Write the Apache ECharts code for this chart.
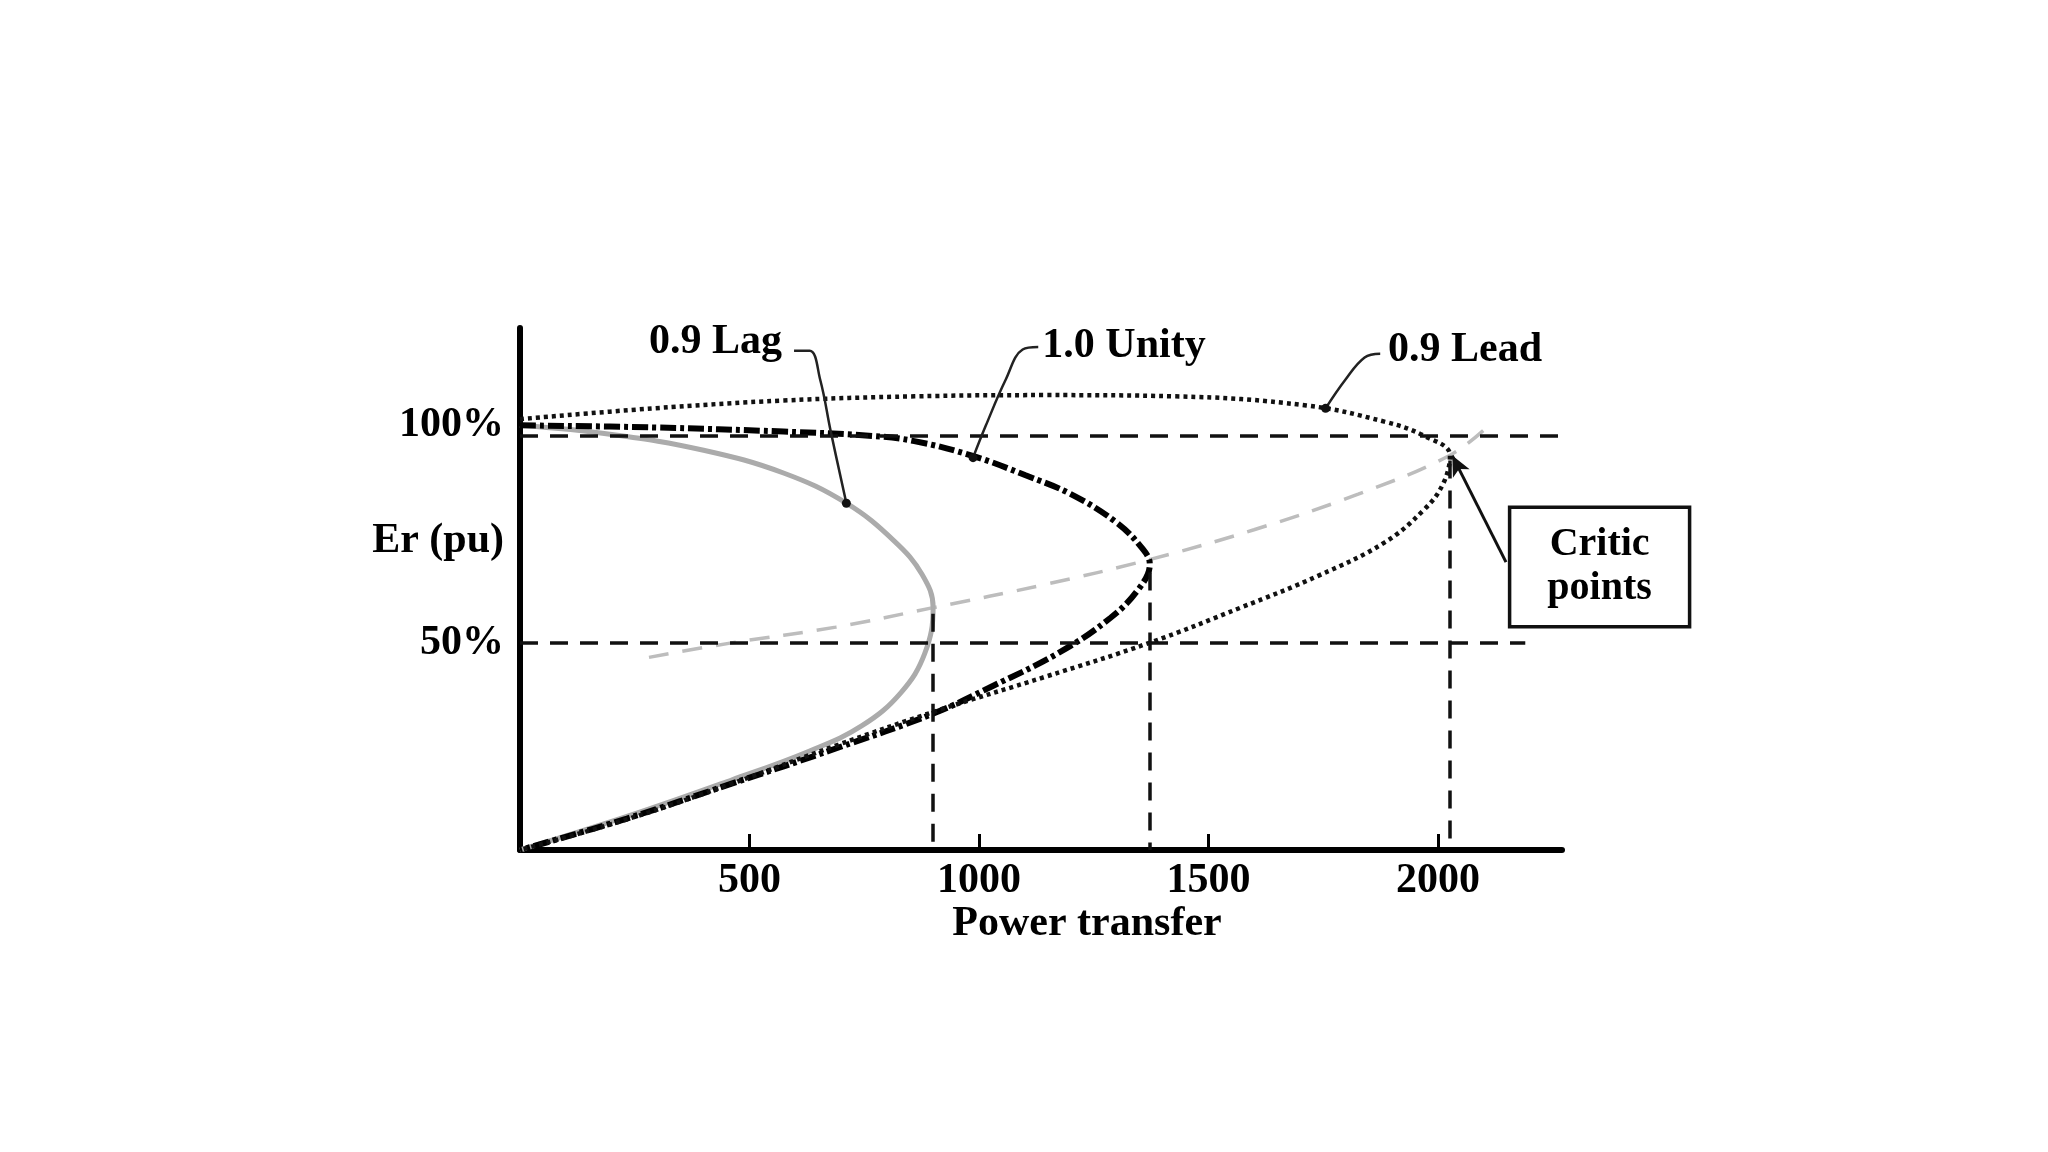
<!DOCTYPE html>
<html>
<head>
<meta charset="utf-8">
<style>
  html, body { margin: 0; padding: 0; background: #ffffff; }
  #chart { width: 2048px; height: 1152px; }
</style>
<script src="https://cdn.jsdelivr.net/npm/echarts@6/dist/echarts.min.js"></script>
</head>
<body>
<div id="chart"></div>
<script>
// ---------- data ----------
const xTickValues = [500, 1000, 1500, 2000];
const xTickLabels = ['500', '1000', '1500', '2000'];
const yTickValues = [50, 100];
const yTickLabels = ['50%', '100%'];
const yAxisTitle = 'Er (pu)';
const yAxisTitleAt = 74.5;
const xAxisTitle = 'Power transfer';

// nose curves: [power transfer, Er %]
const lagCurve = [[0,102.5],[200,100.3],[400,96.5],[574,91],[711,83.7],[816,74.5],[876,66.5],[900,58.5],[882,47.5],[830,38],[745,30],[631,23.9],[461,16.9],[233,8.1],[0,0]];
const unityCurve = [[0,102.5],[290,102],[574,101],[760,100],[859,98.7],[990,95],[1100,90.5],[1200,85.9],[1300,79],[1357,72.6],[1372,69],[1349,63.2],[1286,56],[1172,47.5],[1030,39.6],[902,33],[688,24.5],[461,16],[233,7.6],[0,0]];
const leadCurve = [[0,104],[290,106.6],[574,108.5],[859,109.5],[1144,109.8],[1428,109.5],[1713,107.3],[1883,103.4],[1969,100],[2026,95.3],[2011,88.4],[1969,82.1],[1883,74.2],[1741,66.3],[1570,58.5],[1371,50],[1144,41.8],[916,33.9],[688,25.2],[461,16],[233,7.4],[0,0]];
const criticLocus = [[281,46.5],[461,50],[688,53.8],[900,58.5],[1144,64.1],[1371,70.1],[1599,77.3],[1826,85.9],[2026,95.3],[2111,102.5]];

// reference lines
const refLevels = [100, 50];
const refLevelEnds = [2268, 2190];
const criticX = [900, 1372, 2026];
const criticY = [57, 67, 94];

// annotations
const curveNames = ['0.9 Lag', '1.0 Unity', '0.9 Lead'];
const curveNameAt = [[427, 122.4], [1317, 121.4], [2060, 120.5]];
const leaders = [
  [[597,120.5],[631,120.5],[654,113.5],[677,101],[711,83.7]],
  [[1129,121.4],[1095,120.8],[1058,113.5],[1015,102.5],[987,94.7]],
  [[1874,119.8],[1840,118.9],[1798,113.5],[1755,106.6]]
];
const criticText = 'Critic\npoints';
const criticBoxAt = [2353, 68.2];
const criticArrow = [[2148, 69.5], [2031, 95.2]];

// ---------- chart ----------
const FONT = 'Liberation Serif';
const chart = echarts.init(document.getElementById('chart'), null, { renderer: 'canvas' });

const refLineData = [];
refLevels.forEach((y, i) => refLineData.push([{ coord: [0, y] }, { coord: [refLevelEnds[i], y] }]));
criticX.forEach((x, i) => refLineData.push([{ coord: [x, criticY[i]] }, { coord: [x, 0] }]));

const leaderSeries = leaders.map((pts) => ({
  type: 'line',
  data: pts.map((p, j) => j === pts.length - 1
    ? { value: p, symbol: 'circle', symbolSize: 9 }
    : { value: p, symbol: 'none' }),
  showSymbol: true,
  smooth: 0.4,
  silent: true,
  z: 5,
  itemStyle: { color: '#111', opacity: 1 },
  lineStyle: { color: '#222', width: 2.5 },
  clip: false
}));

const xLabelMap = {};
xTickValues.forEach((v, i) => { xLabelMap[v] = xTickLabels[i]; });
const yLabelMap = {};
yTickValues.forEach((v, i) => { yLabelMap[v] = yTickLabels[i]; });
yLabelMap[yAxisTitleAt] = yAxisTitle;

const option = {
  backgroundColor: '#ffffff',
  animation: false,
  grid: { left: 520, right: 486, top: 328, bottom: 302, outerBoundsMode: 'none' },
  xAxis: {
    type: 'value', min: 0, max: 2270,
    splitLine: { show: false },
    axisLine: { show: true, lineStyle: { color: '#000', width: 6 } },
    axisTick: { show: true, inside: true, length: 16, lineStyle: { color: '#000', width: 3 }, customValues: xTickValues },
    axisLabel: {
      show: true, customValues: xTickValues, margin: 10,
      formatter: (v) => xLabelMap[v],
      fontFamily: FONT, fontWeight: 'bold', fontSize: 42, color: '#000'
    },
    name: xAxisTitle, nameLocation: 'middle', nameGap: 44,
    nameTextStyle: { fontFamily: FONT, fontWeight: 'bold', fontSize: 42, color: '#000', padding: [0, 0, 0, 92] }
  },
  yAxis: {
    type: 'value', min: 0, max: 126,
    splitLine: { show: false },
    axisLine: { show: true, lineStyle: { color: '#000', width: 6 } },
    axisTick: { show: false },
    axisLabel: {
      show: true, customValues: [yTickValues[0], yAxisTitleAt, yTickValues[1]], margin: 16,
      fontFamily: FONT, fontWeight: 'bold', fontSize: 42, color: '#000',
      formatter: (v) => v === 100 ? '{up|' + yLabelMap[v] + '}' : yLabelMap[v],
      rich: { up: { fontFamily: FONT, fontWeight: 'bold', fontSize: 42, color: '#000', padding: [0, 0, 22, 0] } }
    }
  },
  series: [
    {
      name: 'refs', type: 'line', data: [], silent: true,
      markLine: {
        silent: true, symbol: ['none', 'none'], label: { show: false },
        lineStyle: { color: '#111', width: 3.5, type: [18, 12] },
        data: refLineData
      }
    },
    {
      name: 'critic locus', type: 'line', data: criticLocus, smooth: 0.4, showSymbol: false, silent: true,
      lineStyle: { color: '#bdbdbd', width: 3.5, type: [20, 14] }, z: 2
    },
    {
      name: curveNames[0], type: 'line', data: lagCurve, smooth: 0.4, showSymbol: false, silent: true,
      lineStyle: { color: '#ababab', width: 5 }, z: 3
    },
    {
      name: curveNames[1], type: 'line', data: unityCurve, smooth: 0.4, showSymbol: false, silent: true,
      lineStyle: { color: '#000', width: 6, type: [16, 4, 4, 4] }, z: 4
    },
    {
      name: curveNames[2], type: 'line', data: leadCurve, smooth: 0.4, showSymbol: false, silent: true,
      lineStyle: { color: '#111', width: 4.5, type: [4, 4] }, z: 4
    },
    ...leaderSeries,
    {
      name: 'labels', type: 'scatter', clip: false, silent: true, symbolSize: 1,
      itemStyle: { color: '#ffffff', opacity: 1 },
      data: curveNames.map((n, i) => ({ value: curveNameAt[i], name: n })),
      label: {
        show: true, position: [0, 0], align: 'center', verticalAlign: 'middle',
        formatter: (p) => p.name, textBorderWidth: 0,
        fontFamily: FONT, fontWeight: 'bold', fontSize: 42, color: '#000'
      }, z: 6
    },
    {
      name: 'critic box', type: 'scatter', clip: false, silent: true, symbolSize: 1,
      itemStyle: { color: '#ffffff', opacity: 1 },
      data: [{ value: criticBoxAt, name: criticText }],
      label: {
        show: true, position: [0, 0], formatter: (p) => p.name, textBorderWidth: 0,
        fontFamily: FONT, fontWeight: 'bold', fontSize: 40, lineHeight: 44, color: '#000',
        align: 'center', verticalAlign: 'middle',
        borderColor: '#111', borderWidth: 3.5, padding: [14, 36, 14, 36], backgroundColor: '#fff'
      }, z: 6,
      markLine: {
        silent: true, symbol: ['none', 'arrow'], symbolSize: [14, 20], label: { show: false },
        lineStyle: { color: '#111', width: 3, type: 'solid' },
        data: [[{ coord: criticArrow[0] }, { coord: criticArrow[1] }]]
      }
    }
  ]
};
chart.setOption(option);
</script>
</body>
</html>
